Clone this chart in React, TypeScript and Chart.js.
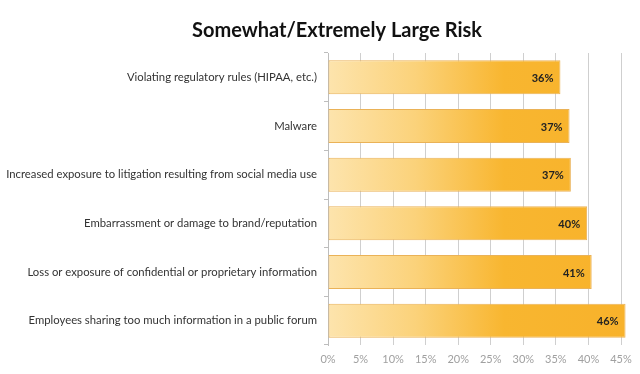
import React, { useEffect, useRef } from "react";
import { Chart, registerables } from "chart.js";

Chart.register(...registerables);

const title = "Somewhat/Extremely Large Risk";
const categories = [
  "Violating regulatory rules (HIPAA, etc.)",
  "Malware",
  "Increased exposure to litigation resulting from social media use",
  "Embarrassment or damage to brand/reputation",
  "Loss or exposure of confidential or proprietary information",
  "Employees sharing too much information in a public forum",
];
const values = [35.7, 37.1, 37.3, 39.8, 40.5, 45.7];
const valueLabels = ["36%", "37%", "37%", "40%", "41%", "46%"];
const xMin = 0;
const xMax = 45;
const xStep = 5;

const FONT = "Lato, 'Open Sans', sans-serif";

const titlePlugin = {
  id: "customTitle",
  afterDraw(chart: any) {
    const ctx = chart.ctx;
    ctx.save();
    ctx.font = `bold 20px ${FONT}`;
    ctx.fillStyle = "#111";
    ctx.textAlign = "center";
    ctx.textBaseline = "alphabetic";
    ctx.fillText(title, 337, 37);
    ctx.restore();
  },
};

const dataLabelPlugin = {
  id: "dataLabels",
  afterDatasetsDraw(chart: any) {
    const ctx = chart.ctx;
    const meta = chart.getDatasetMeta(0);
    ctx.save();
    ctx.font = `bold 11px ${FONT}`;
    ctx.fillStyle = "#222";
    ctx.textAlign = "right";
    ctx.textBaseline = "middle";
    meta.data.forEach((bar: any, i: number) => {
      ctx.fillText(valueLabels[i], bar.x - 7, bar.y + 1);
    });
    ctx.restore();
  },
};

export default function App() {
  const ref = useRef<HTMLCanvasElement>(null);
  useEffect(() => {
    document.body.style.margin = "0";
    const canvas = ref.current!;
    const chart = new Chart(canvas, {
      type: "bar",
      data: {
        labels: categories,
        datasets: [
          {
            data: values,
            backgroundColor: (c: any) => {
              const ch = c.chart;
              const area = ch.chartArea;
              if (!area) return "#f8b52e";
              const g = ch.ctx.createLinearGradient(area.left, 0, area.right, 0);
              g.addColorStop(0, "#fde4ad");
              g.addColorStop(0.3, "#fbd27a");
              g.addColorStop(0.6, "#f8b630");
              g.addColorStop(1, "#f8b22b");
              return g;
            },
            borderColor: "#eab257",
            borderWidth: 1,
            borderSkipped: false,
            barPercentage: 0.7,
            categoryPercentage: 1,
            clip: false as any,
          },
        ],
      },
      options: {
        indexAxis: "y",
        animation: false,
        responsive: false,
        maintainAspectRatio: false,
        layout: { padding: { left: 0, right: 19, top: 53, bottom: 0 } },
        plugins: {
          legend: { display: false },
          tooltip: { enabled: false },
          title: { display: false },
        },
        scales: {
          x: {
            min: xMin,
            max: xMax,
            ticks: {
              stepSize: xStep,
              color: "#a0a0a0",
              font: { family: FONT, size: 11 },
              padding: 8,
              callback: (v: any) => `${v}%`,
            },
            grid: { color: "#cfcfcf", drawTicks: false },
            border: { display: false },
            afterFit: (s: any) => {
              s.height = 29;
            },
          },
          y: {
            ticks: {
              color: "#333",
              font: { family: FONT, size: 11.3 },
              padding: 7,
            },
            grid: {
              drawOnChartArea: false,
              drawTicks: true,
              tickLength: 4,
              color: "#bdbdbd",
            },
            border: { display: true, color: "#bdbdbd" },
            afterFit: (s: any) => {
              s.width = 328;
            },
          },
        },
      },
      plugins: [dataLabelPlugin, titlePlugin],
    });
    return () => chart.destroy();
  }, []);
  return (
    <div style={{ position: "fixed", left: 0, top: 0, width: 640, height: 374, background: "#fff" }}>
      <canvas ref={ref} width={640} height={374} style={{ width: 640, height: 374 }} />
    </div>
  );
}
